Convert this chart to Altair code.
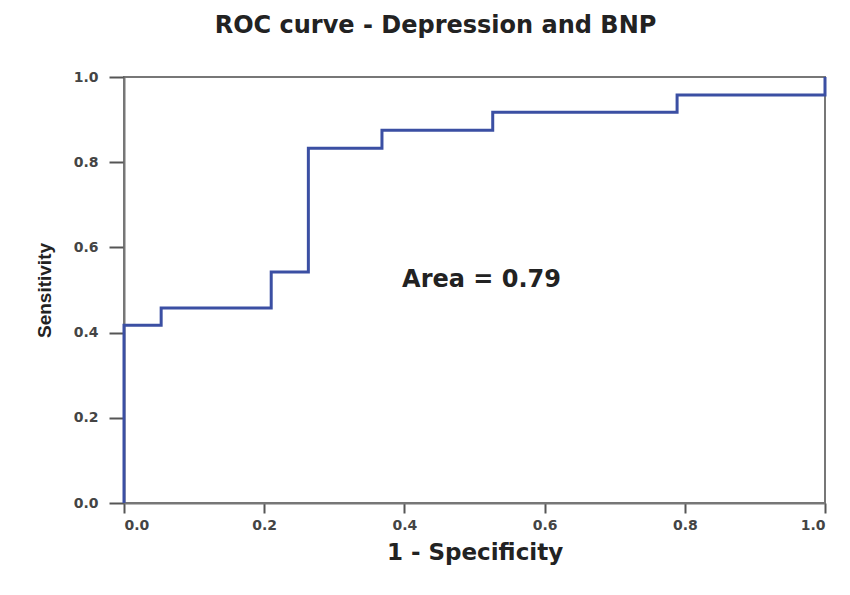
import altair as alt
import pandas as pd

# ROC step curve vertices (1 - specificity, sensitivity)
fpr = [0.0, 0.0, 0.053, 0.053, 0.210, 0.210, 0.263, 0.263, 0.368, 0.368, 0.526, 0.526, 0.789, 0.789, 1.0, 1.0]
tpr = [0.0, 0.417, 0.417, 0.458, 0.458, 0.542, 0.542, 0.833, 0.833, 0.875, 0.875, 0.917, 0.917, 0.958, 0.958, 1.0]
ticks = [0.0, 0.2, 0.4, 0.6, 0.8, 1.0]
area_label = ["Area = 0.79"]
area_x = [0.51]
area_y = [0.523]

df = pd.DataFrame({"fpr": fpr, "tpr": tpr, "order": list(range(len(fpr)))})
lab = pd.DataFrame({"x": area_x, "y": area_y, "t": area_label})

WIDE = "DejaVu Sans"
FONT = "Liberation Sans"

xscale = alt.Scale(domain=[0, 1], nice=False, zero=False)
yscale = alt.Scale(domain=[0, 1], nice=False, zero=False)

line = alt.Chart(df).mark_line(color="#3b4fa3", strokeWidth=3, clip=False).encode(
    x=alt.X("fpr:Q", scale=xscale,
            axis=alt.Axis(title="1 - Specificity", values=ticks, format=".1f", grid=False,
                          domainColor="#777777", domainWidth=2, tickColor="#555555", tickWidth=2,
                          tickSize=10, labelPadding=5, labelFont=WIDE, labelFontSize=14,
                          labelFontWeight="bold", labelColor="#444444",
                          titleFont=WIDE, titleFontSize=23, titleFontWeight="bold",
                          titleColor="#222222", titlePadding=9)),
    y=alt.Y("tpr:Q", scale=yscale,
            axis=alt.Axis(title="Sensitivity", values=ticks, format=".1f", grid=False,
                          domainColor="#777777", domainWidth=2, tickColor="#555555", tickWidth=2,
                          tickSize=15, labelPadding=11, labelFont=WIDE, labelFontSize=14,
                          labelFontWeight="bold", labelColor="#444444",
                          titleFont=FONT, titleFontSize=19, titleFontWeight="bold",
                          titleColor="#222222", titlePadding=19)),
    order="order:Q",
)

txt = alt.Chart(lab).mark_text(font=WIDE, fontSize=24, fontWeight="bold", color="#222222").encode(
    x=alt.X("x:Q", scale=xscale),
    y=alt.Y("y:Q", scale=yscale),
    text="t:N",
)

chart = alt.layer(line, txt).properties(
    width=701,
    height=426,
    title=alt.TitleParams("ROC curve - Depression and BNP", font=WIDE, fontSize=24,
                          fontWeight="bold", color="#222222", anchor="middle", dx=-39, offset=32),
    autosize=alt.AutoSizeParams(type="none"),
    padding={"left": 116, "top": 69, "right": 17, "bottom": 84},
    background="white",
).configure_view(stroke="#777777", strokeWidth=2)

chart.save("out.html", embed_options={"renderer": "svg", "actions": False})
